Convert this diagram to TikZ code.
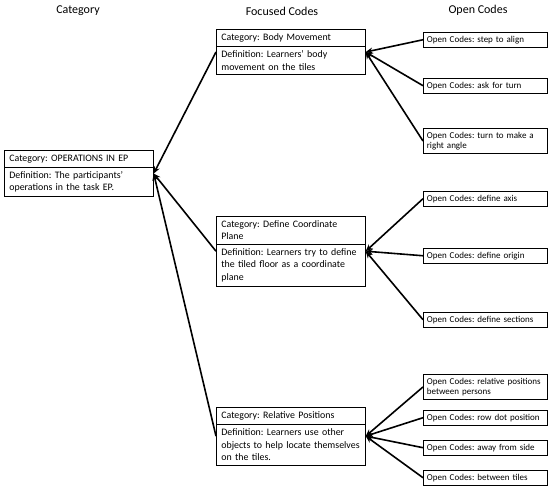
\documentclass[tikz,border=0pt]{standalone}
\usepackage{fontspec}
\setmainfont{Carlito}
\frenchspacing
\hyphenpenalty=10000
\usetikzlibrary{arrows.meta, positioning, shapes.multipart}
\tikzset{%
    catbox/.style={%
        draw=black, line width=0.7pt, rectangle split, rectangle split parts=2,
        text width=139pt, align=left, inner xsep=5pt, inner ysep=4pt,
        font=\fontsize{9.9}{12.3}\selectfont, anchor=north west,
    },
    codebox/.style={%
        draw=black, line width=0.7pt, text width=117pt, align=left,
        inner xsep=3.5pt, inner ysep=3.5pt,
        font=\fontsize{9}{10.5}\selectfont, anchor=north west,
    },
    colhead/.style={%
        font=\fontsize{12}{14}\selectfont,
    },
}

\begin{document}
\begin{tikzpicture}[
        x=1pt, y=-1pt,
        dom/.style={-{Stealth[length=7pt, width=6pt]}, line width=1.6pt},
    ]
        \useasboundingbox (0,0) rectangle (550,488);

        \node[colhead] (hcat) at (78, 11) {Category};
        \node[colhead] (hfocus) at (282, 11) {Focused Codes};
        \node[colhead] (hopen) at (478, 10) {Open Codes};

        % category and focused codes
        \node[catbox] (ops) at (4, 150) {Category: OPERATIONS IN EP
            \nodepart{two}Definition: The participants'\\operations in the task EP.};
        \node[catbox] (body) at (216, 29) {Category: Body Movement
            \nodepart{two}Definition: Learners' body\\movement on the tiles};
        \node[catbox] (coord) at (216, 216) {Category: Define Coordinate\\Plane
            \nodepart{two}Definition: Learners try to define\\the tiled floor as a coordinate\\plane};
        \node[catbox] (relpos) at (216, 407) {Category: Relative Positions
            \nodepart{two}Definition: Learners use other\\objects to help locate themselves\\on the tiles.};

        % open codes
        \node[codebox] (align) at (423, 32) {Open Codes: step to align};
        \node[codebox] (askturn) at (423, 78) {Open Codes: ask for turn};
        \node[codebox] (rightangle) at (423, 128) {Open Codes: turn to make a\\right angle};
        \node[codebox] (axis) at (423, 191) {Open Codes: define axis};
        \node[codebox] (origin) at (423, 248) {Open Codes: define origin};
        \node[codebox] (sections) at (423, 312) {Open Codes: define sections};
        \node[codebox] (persons) at (423, 374) {Open Codes: relative positions\\between persons};
        \node[codebox] (rowdot) at (423, 410) {Open Codes: row dot position};
        \node[codebox] (awayside) at (423, 440) {Open Codes: away from side};
        \node[codebox] (tiles) at (423, 470) {Open Codes: between tiles};

        \draw[dom] (body.west) to (ops.east);
        \draw[dom] (coord.west) to (ops.east);
        \draw[dom] (relpos.west) to (ops.east);

        \draw[dom] (align.west) to (body.east);
        \draw[dom] (askturn.west) to (body.east);
        \draw[dom] (rightangle.west) to (body.east);
        \draw[dom] (axis.west) to (coord.east);
        \draw[dom] (origin.west) to (coord.east);
        \draw[dom] (sections.west) to (coord.east);
        \draw[dom] (persons.west) to (relpos.east);
        \draw[dom] (rowdot.west) to (relpos.east);
        \draw[dom] (awayside.west) to (relpos.east);
        \draw[dom] (tiles.west) to (relpos.east);

    \end{tikzpicture}
\end{document}
